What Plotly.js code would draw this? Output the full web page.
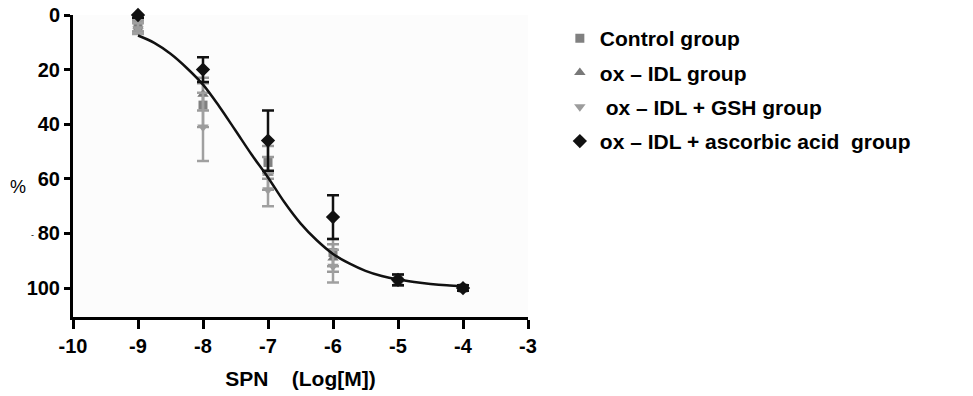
<!DOCTYPE html>
<html>
<head>
<meta charset="utf-8">
<script src="https://cdn.plot.ly/plotly-3.0.1.min.js"></script>
<style>html,body{margin:0;padding:0;background:#fff;}#chart{width:973px;height:396px;}</style>
</head>
<body>
<div id="chart"></div>
<script>
// concentrations (Log[M])
var logConc = [-9, -8, -7, -6, -5, -4];

// group means (%) and errors
var controlMean = [4, 33, 54, 87, 97, 100];
var controlErr  = [2, 8, 6, 5, 2, 1];
var oxMean = [4, 29, 58, 89, 97, 100];
var oxErr  = [2, 6, 6, 5, 2, 1];
var gshMean = [5, 41, 64, 92, 97, 100];
var gshErr  = [2, 12.5, 6, 6, 2, 1];
var ascMean = [0, 20, 46, 74, 97, 100];
var ascErr  = [1, 4.5, 11, 8, 2, 1];

// fitted curve
var fitX = [-9, -8.75, -8.5, -8.25, -8, -7.75, -7.5, -7.25, -7, -6.75, -6.5, -6.25, -6, -5.75, -5.5, -5.25, -5, -4.75, -4.5, -4.25, -4];
var fitY = [7.5, 10.2, 14.2, 19.4, 25.5, 33.5, 42.3, 51.2, 59.5, 68.5, 76.3, 82.5, 87.5, 91, 93.7, 95.6, 96.9, 97.8, 98.5, 99, 99.3];

var legendNames = ['Control group', 'ox \u2013 IDL group', ' ox \u2013 IDL + GSH group', 'ox \u2013 IDL + ascorbic acid&nbsp; group'];
var xTicks = [-10, -9, -8, -7, -6, -5, -4, -3];
var yTicks = [0, 20, 40, 60, 80, 100];

function grp(name, y, err, sym, col, ecol, size, g) {
  return {
    x: logConc, y: y, name: name, type: 'scatter', mode: 'markers',
    legendgroup: g, cliponaxis: false,
    marker: {symbol: sym, color: col, size: size},
    error_y: {type: 'data', array: err, visible: true, color: ecol, thickness: 2.5, width: 6}
  };
}

var traces = [
  grp(legendNames[0], controlMean, controlErr, 'square', '#808080', '#9a9a9a', 9, 'a'),
  grp(legendNames[1], oxMean, oxErr, 'triangle-up', '#787878', '#9a9a9a', 10, 'b'),
  grp(legendNames[2], gshMean, gshErr, 'triangle-down', '#9c9c9c', '#a0a0a0', 10, 'c'),
  grp(legendNames[3], ascMean, ascErr, 'diamond', '#111111', '#111111', 11, 'd'),
  {x: fitX, y: fitY, type: 'scatter', mode: 'lines', showlegend: false, cliponaxis: false,
   line: {color: '#111111', width: 2.5, shape: 'spline'}}
];

var layout = {
  width: 973, height: 396,
  margin: {l: 73, r: 445, t: 15, b: 79},
  paper_bgcolor: '#ffffff', plot_bgcolor: '#fcfcfc',
  font: {family: 'Liberation Sans, Arial, sans-serif', color: '#000'},
  showlegend: true,
  legend: {x: 1.07, y: 0.99, xanchor: 'left', yanchor: 'top', tracegroupgap: 4,
           font: {size: 21, family: 'Liberation Sans, Arial, sans-serif', weight: 'bold', color: '#000'},
           itemwidth: 30, bgcolor: 'rgba(0,0,0,0)'},
  xaxis: {range: [-10, -3], tickvals: xTicks, ticktext: xTicks.map(String),
          showgrid: false, zeroline: false, showline: true, linecolor: '#000', linewidth: 3,
          ticks: 'outside', ticklen: 9, tickwidth: 3, tickcolor: '#000',
          tickfont: {size: 20, weight: 'bold'},
          title: {text: 'SPN&nbsp;&nbsp;&nbsp; (Log[M])', font: {size: 21, weight: 'bold'}, standoff: 16}},
  yaxis: {range: [110.6, 0], tickvals: yTicks, ticktext: yTicks.map(String),
          showgrid: false, zeroline: false, showline: true, linecolor: '#000', linewidth: 3,
          ticks: 'outside', ticklen: 6, tickwidth: 3, tickcolor: '#000',
          tickfont: {size: 20, weight: 'bold'}},
  annotations: [
    {xref: 'paper', yref: 'paper', x: -0.12, y: 0.43, text: '%', showarrow: false,
     font: {size: 18, color: '#000'}, xanchor: 'center', yanchor: 'middle'},
    {xref: 'paper', yref: 'paper', x: -0.09, y: 0.27, text: '-', showarrow: false,
     font: {size: 9, color: '#000'}, xanchor: 'center', yanchor: 'middle'}
  ]
};

Plotly.newPlot('chart', traces, layout, {displayModeBar: false, staticPlot: true});
</script>
</body>
</html>
